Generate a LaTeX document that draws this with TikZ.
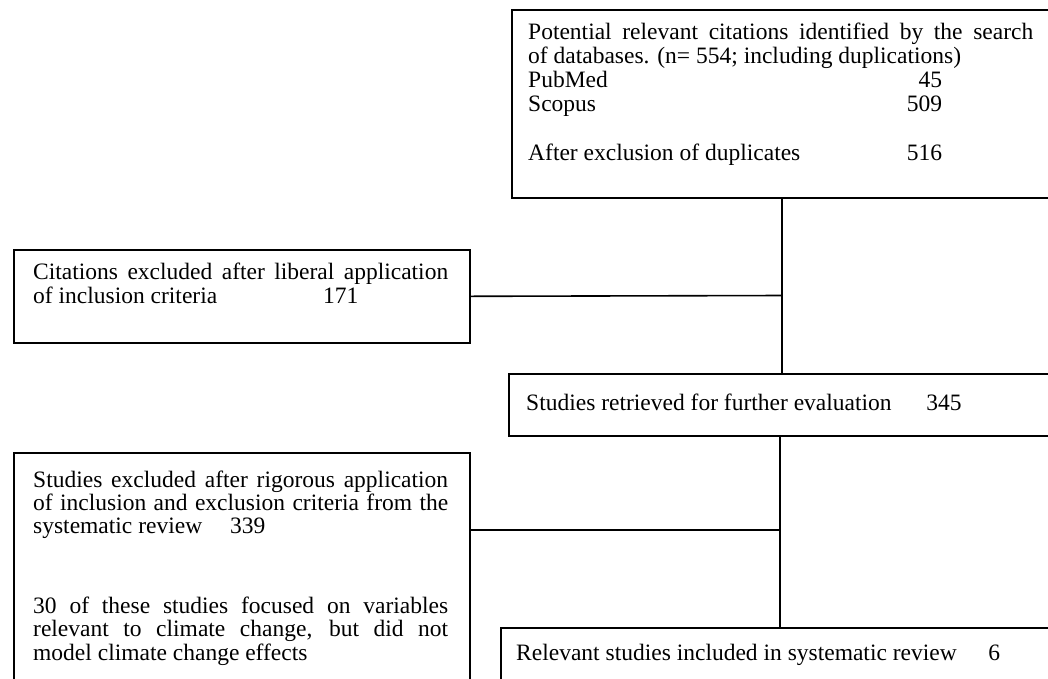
\documentclass[tikz,border=0pt]{standalone}
\usepackage{fontspec}
\setmainfont{Liberation Serif}
\begin{document}
\begin{tikzpicture}[x=1pt,y=-1pt,
  box/.style={draw, line width=1.6pt, inner sep=0pt, anchor=north west},
  txt/.style={anchor=base west, inner sep=0pt, font=\fontsize{23.5}{24}\selectfont},
  conn/.style={line width=1.6pt}]
\fill[white] (0,0) rectangle (1048,678);
\useasboundingbox (0,0) rectangle (1048,678);
\clip (0,0) rectangle (1048,678);

% boxes
\node[box, minimum width=549pt, minimum height=188pt] (top) at (511,9) {};
\node[box, minimum width=456pt, minimum height=93pt] (ex1) at (13,249) {};
\node[box, minimum width=552pt, minimum height=62pt] (ret) at (508,373) {};
\node[box, minimum width=456pt, minimum height=260pt] (ex2) at (13,452) {};
\node[box, minimum width=560pt, minimum height=80pt] (inc) at (500,627) {};

% top box text
\node[txt] (t1) at (528,39) {\makebox[505pt][s]{Potential relevant citations identified by the search}};
\node[txt] (t2) at (528,63.2) {of databases. (n= 554; including duplications)};
\node[txt] (t3) at (528,87.4) {\makebox[414pt][l]{PubMed}\llap{45}};
\node[txt] (t4) at (528,111.6) {\makebox[414pt][l]{Scopus}\llap{509}};
\node[txt] (t5) at (528,160) {\makebox[414pt][l]{After exclusion of duplicates}\llap{516}};

% excluded 1
\node[txt] (e1) at (33,279) {\makebox[415pt][s]{Citations excluded after liberal application}};
\node[txt] (e2) at (33,303.5) {\makebox[290pt][l]{of inclusion criteria}171};

% retrieved
\node[txt] (r1) at (526,410) {\makebox[400pt][l]{Studies retrieved for further evaluation}345};

% excluded 2
\node[txt] (f1) at (33,487) {\makebox[415pt][s]{Studies excluded after rigorous application}};
\node[txt] (f2) at (33,510.3) {\makebox[415pt][s]{of inclusion and exclusion criteria from the}};
\node[txt] (f3) at (33,533.6) {systematic review\hspace{28pt}339};
\node[txt] (f4) at (33,613.4) {\makebox[415pt][s]{30 of these studies focused on variables}};
\node[txt] (f5) at (33,636.7) {\makebox[415pt][s]{relevant to climate change, but did not}};
\node[txt] (f6) at (33,660) {model climate change effects};

% included
\node[txt] (i1) at (516,660) {\makebox[472pt][l]{Relevant studies included in systematic review}6};

% connectors
\coordinate (j1) at (782,295.5);
\draw[conn] (top.south -| j1) -- (ret.north -| j1);
\draw[conn] (ex1.east) -- (j1);
\coordinate (j2) at (780,530);
\draw[conn] (ret.south -| j2) -- (inc.north -| j2);
\draw[conn] (ex2.east |- j2) -- (j2);
\end{tikzpicture}
\end{document}
